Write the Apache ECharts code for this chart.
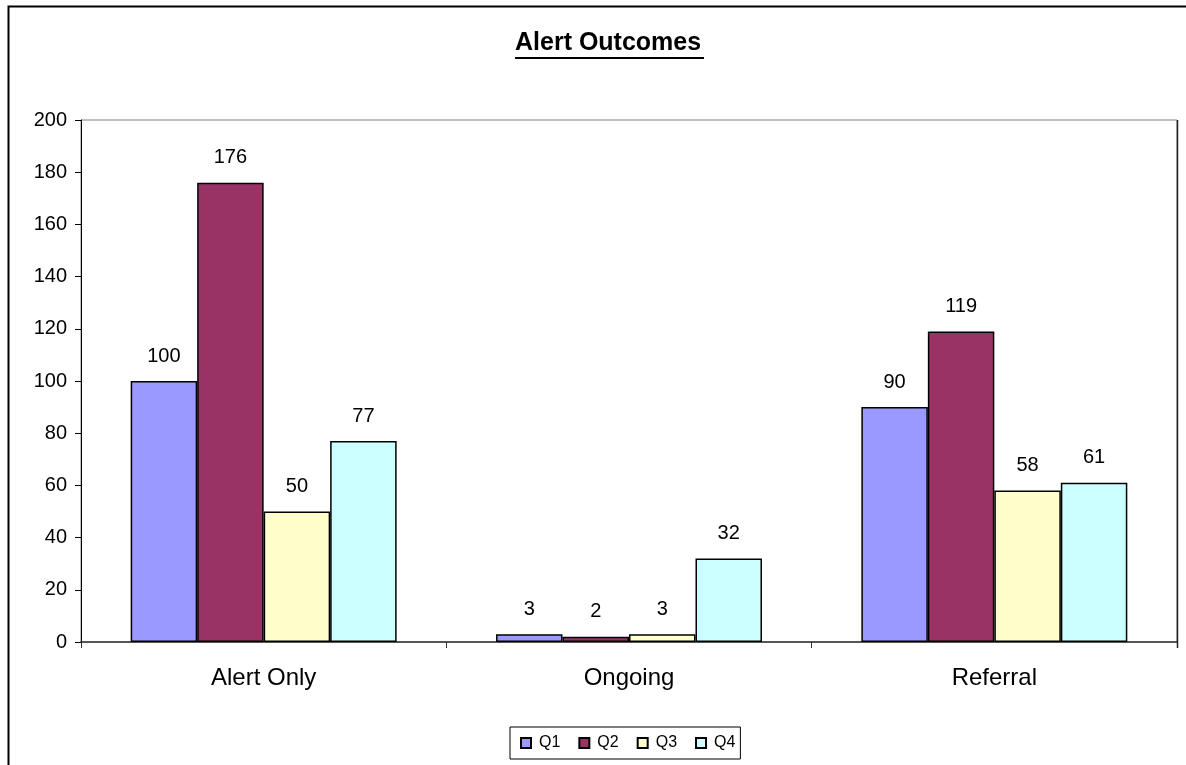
<!DOCTYPE html>
<html>
<head>
<meta charset="utf-8">
<style>
  html, body { margin: 0; padding: 0; background: #fff; }
  #chart { width: 1186px; height: 765px; }
</style>
<script src="https://cdn.jsdelivr.net/npm/echarts@6/dist/echarts.min.js"></script>
</head>
<body>
<div id="chart"></div>
<script>
// Alert outcome counts by quarter
const categories = ['Alert Only', 'Ongoing', 'Referral'];
const seriesNames = ['Q1', 'Q2', 'Q3', 'Q4'];
const q1 = [100, 3, 90];
const q2 = [176, 2, 119];
const q3 = [50, 3, 58];
const q4 = [77, 32, 61];
const seriesValues = [q1, q2, q3, q4];
const seriesColors = ['#9999FF', '#993366', '#FFFFCC', '#CCFFFF'];
const yTicks = { min: 0, max: 200, interval: 20 };

const font = 'Liberation Sans, Arial, sans-serif';
const chart = echarts.init(document.getElementById('chart'));

chart.setOption({
  animation: false,
  backgroundColor: '#fff',
  grid: {
    left: 81, top: 120, right: 9, bottom: 123,
    show: true, borderColor: '#808080', borderWidth: 1
  },
  graphic: [
    // outer chart frame
    { type: 'rect', shape: { x: 8.5, y: 6.5, width: 1200, height: 800 },
      style: { fill: 'none', stroke: '#000', lineWidth: 2 }, z: 0, silent: true },
    // darker right edge of the plot area
    { type: 'line', shape: { x1: 1177.5, y1: 120, x2: 1177.5, y2: 648 },
      style: { stroke: '#222', lineWidth: 1.5 }, z: 10, silent: true },
    // underlined title
    { type: 'text', left: 515, top: 31,
      style: { text: 'Alert Outcomes', font: 'bold 25px ' + font, fill: '#000' } },
    { type: 'rect', shape: { x: 515, y: 57, width: 189, height: 2 },
      style: { fill: '#000' }, silent: true }
  ],
  legend: {
    data: seriesNames,
    left: 510, top: 727,
    itemWidth: 10, itemHeight: 10, itemGap: 18,
    icon: 'rect',
    padding: [8, 5, 8, 10],
    borderColor: '#000', borderWidth: 1,
    textStyle: { fontFamily: font, fontSize: 16, color: '#000', padding: [0, 0, 0, 3] }
  },
  xAxis: {
    type: 'category',
    data: categories,
    axisLine: { lineStyle: { color: '#333', width: 1.5 } },
    axisTick: { show: true, length: 6, lineStyle: { color: '#333' } },
    axisLabel: { fontFamily: font, fontSize: 24, color: '#000', margin: 24 },
    splitLine: { show: false }
  },
  yAxis: {
    type: 'value',
    min: yTicks.min, max: yTicks.max, interval: yTicks.interval,
    axisLine: { show: true, lineStyle: { color: '#000', width: 1 } },
    axisTick: { show: true, length: 6, lineStyle: { color: '#000' } },
    axisLabel: { fontFamily: font, fontSize: 20, color: '#000', margin: 14 },
    splitLine: { show: false }
  },
  series: seriesNames.map((name, i) => ({
    name: name,
    type: 'bar',
    data: seriesValues[i],
    barGap: '0%',
    barCategoryGap: '27.2%',
    itemStyle: { color: seriesColors[i], borderColor: '#000', borderWidth: 1.5 },
    label: {
      show: true, position: 'top', distance: 15,
      fontFamily: font, fontSize: 20, color: '#000'
    }
  }))
});
</script>
</body>
</html>
